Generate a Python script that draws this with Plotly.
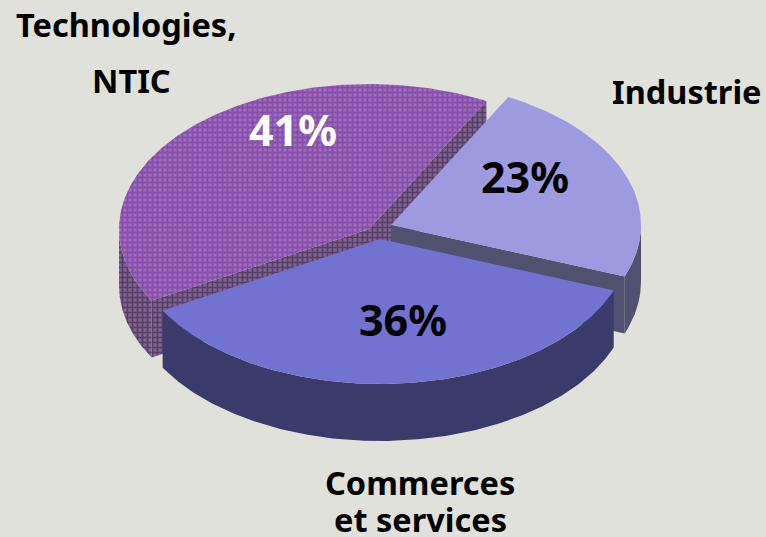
import numpy as np
import plotly.graph_objects as go

# Data
categories = ["Technologies, NTIC", "Commerces et services", "Industrie"]
shares = [41, 36, 23]
share_labels = ["41%", "36%", "23%"]

# Drawing geometry of the perspective pie
W, H = 766, 537
A, B, DEPTH = 250, 145, 57
START = 62.0
apexes = [(369, 229), (380, 239), (391, 225)]

angles = [START]
for s in shares:
    angles.append(angles[-1] + s * 3.6)
spans = [(angles[i], angles[i + 1]) for i in range(3)]


def arc(apex, a0, a1):
    t = np.radians(np.linspace(a0, a1, 200))
    return apex[0] + A * np.cos(t), apex[1] - B * np.sin(t)


def top(apex, a0, a1):
    x, y = arc(apex, a0, a1)
    return np.r_[apex[0], x, apex[0]], np.r_[apex[1], y, apex[1]]


def side(apex, a0, a1):
    x, y = arc(apex, a0, a1)
    return np.r_[x, x[::-1], x[0]], np.r_[y, y[::-1] + DEPTH, y[0]]


def wall(apex, ang):
    x, y = arc(apex, ang, ang)
    x1, y1 = x[0], y[0]
    return ([apex[0], x1, x1, apex[0], apex[0]],
            [apex[1], y1, y1 + DEPTH, apex[1] + DEPTH, apex[1]])


fig = go.Figure()


def poly(xy, color=None, pattern=None):
    kw = dict(x=xy[0], y=xy[1], mode="lines", fill="toself", hoverinfo="skip",
              showlegend=False, line=dict(width=0))
    if pattern:
        kw["fillpattern"] = pattern
        kw["fillcolor"] = pattern["bgcolor"]
    else:
        kw["fillcolor"] = color
    fig.add_trace(go.Scatter(**kw))


p_wall = dict(shape="+", size=5, solidity=0.55, fgcolor="#2C1840", bgcolor="#7F6490")
p_top = dict(shape="+", size=5, solidity=0.6, fgcolor="#7428A6", bgcolor="#9C70B6")

# purple slice
a0, a1 = spans[0]
poly(side(apexes[0], 180, a1), pattern=p_wall)
poly(wall(apexes[0], a1), pattern=p_wall)
poly(wall(apexes[0], a0), pattern=p_wall)
poly(top(apexes[0], a0, a1), pattern=p_top)

# light slice
a0, a1 = spans[2]
poly(side(apexes[2], a0, 360), "#50506F")
poly(wall(apexes[2], a0), "#50506F")
poly(top(apexes[2], a0, a1), "#9D9ADF")

# blue slice
a0, a1 = spans[1]
poly(side(apexes[1], a0, a1), "#3B3B6B")
poly(top(apexes[1], a0, a1), "#7272D0")

FONT = "Noto Sans"
texts = [
    ("Technologies,", 126, 24, 32.5, "black"),
    ("NTIC", 131, 80, 32.5, "black"),
    ("Industrie", 687, 91, 32.5, "black"),
    ("Commerces", 420, 482, 32.5, "black"),
    ("et services", 420, 519, 32.5, "black"),
    (share_labels[0], 293, 129, 43, "white"),
    (share_labels[2], 525, 176, 43, "black"),
    (share_labels[1], 403, 319, 43, "black"),
]
for t, x, y, s, c in texts:
    fig.add_annotation(x=x, y=y, xref="x", yref="y", text=f"<b>{t}</b>", showarrow=False,
                       font=dict(family=FONT, size=s, color=c), xanchor="center", yanchor="middle")

fig.update_layout(
    width=W, height=H, margin=dict(l=0, r=0, t=0, b=0),
    paper_bgcolor="#E0E1DB", plot_bgcolor="#E0E1DB",
    xaxis=dict(range=[0, W], visible=False, fixedrange=True),
    yaxis=dict(range=[H, 0], visible=False, fixedrange=True),
)
fig.write_html("out.html", config={"displayModeBar": False},
               post_script="document.body.style.margin='0';document.body.style.overflow='hidden';document.body.style.background='#E0E1DB';")
